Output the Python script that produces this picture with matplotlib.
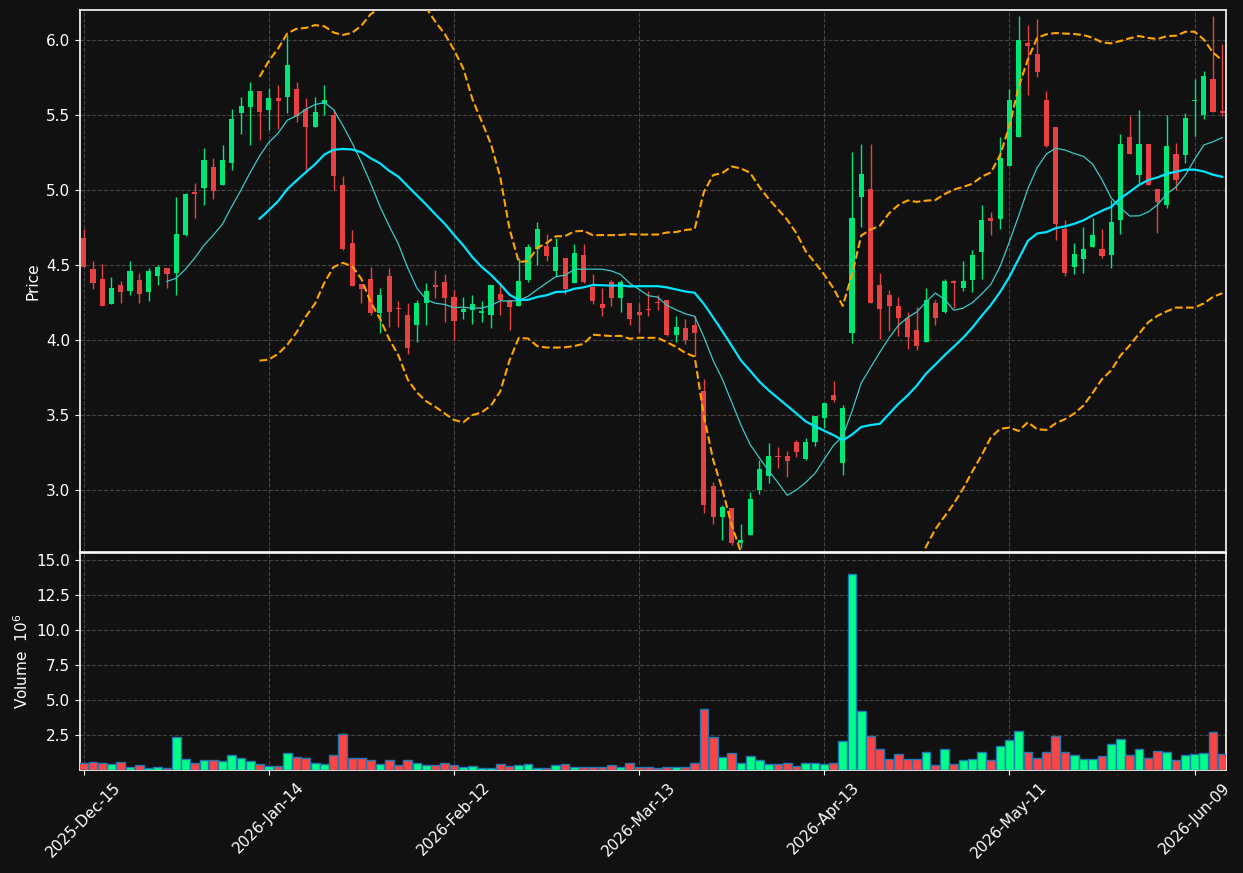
import numpy as np
import pandas as pd
import matplotlib
matplotlib.use('Agg')
import matplotlib.pyplot as plt

# trading days (NYSE calendar) 2025-12-15 .. 2026-06-12
holidays = ['2025-12-25', '2026-01-01', '2026-01-19', '2026-02-16', '2026-04-03', '2026-05-25']
dates = pd.bdate_range('2025-12-15', '2026-06-12', freq='C', holidays=holidays)

opens = [4.682, 4.470, 4.409, 4.238, 4.369, 4.324, 4.402, 4.317, 4.425, 4.481,
         4.444, 4.699, 4.984, 5.010, 5.155, 5.031, 5.179, 5.513, 5.553, 5.663,
         5.532, 5.616, 5.619, 5.675, 5.537, 5.420, 5.572, 5.497, 5.036, 4.643,
         4.371, 4.409, 4.177, 4.423, 4.210, 4.163, 4.097, 4.247, 4.362, 4.383,
         4.289, 4.184, 4.198, 4.177, 4.165, 4.308, 4.266, 4.224, 4.402, 4.605,
         4.629, 4.458, 4.549, 4.378, 4.563, 4.355, 4.242, 4.383, 4.278, 4.249,
         4.184, 4.203, 4.254, 4.266, 4.034, 4.079, 4.102, 3.662, 3.028, 2.817,
         2.880, 2.644, 2.700, 2.997, 3.091, 3.227, 3.222, 3.320, 3.203, 3.320,
         3.477, 3.629, 3.178, 4.044, 4.952, 5.003, 4.369, 4.301, 4.228, 4.149,
         4.065, 3.985, 4.249, 4.186, 4.390, 4.345, 4.397, 4.584, 4.816, 4.809,
         5.158, 5.352, 5.981, 5.904, 5.602, 5.417, 4.736, 4.483, 4.537, 4.617,
         4.603, 4.565, 4.797, 5.356, 5.099, 5.303, 5.003, 4.898, 5.237, 5.232,
         5.590, 5.497, 5.743, 5.525]
highs = [4.741, 4.526, 4.509, 4.420, 4.390, 4.523, 4.448, 4.479, 4.500, 4.481,
         4.954, 4.982, 5.043, 5.282, 5.214, 5.300, 5.541, 5.621, 5.722, 5.663,
         5.682, 5.700, 6.033, 5.722, 5.612, 5.621, 5.700, 5.530, 5.092, 4.734,
         4.371, 4.483, 4.345, 4.479, 4.261, 4.247, 4.266, 4.381, 4.467, 4.441,
         4.331, 4.289, 4.301, 4.261, 4.369, 4.367, 4.266, 4.547, 4.640, 4.783,
         4.703, 4.680, 4.549, 4.640, 4.640, 4.437, 4.348, 4.399, 4.399, 4.249,
         4.249, 4.329, 4.296, 4.266, 4.161, 4.137, 4.156, 3.739, 3.049, 2.899,
         2.880, 2.773, 2.986, 3.196, 3.313, 3.283, 3.260, 3.330, 3.348, 3.489,
         3.582, 3.728, 3.566, 5.256, 5.303, 5.303, 4.448, 4.331, 4.285, 4.186,
         4.217, 4.345, 4.263, 4.406, 4.402, 4.526, 4.601, 4.900, 4.853, 5.354,
         5.675, 6.157, 6.103, 6.140, 5.661, 5.417, 4.799, 4.647, 4.753, 4.811,
         4.741, 4.933, 5.375, 5.494, 5.534, 5.303, 5.003, 5.502, 5.314, 5.513,
         5.740, 5.792, 6.161, 5.974]
lows = [4.483, 4.341, 4.224, 4.238, 4.247, 4.301, 4.247, 4.259, 4.364, 4.348,
        4.301, 4.692, 4.813, 4.900, 4.938, 5.031, 5.134, 5.375, 5.300, 5.335,
        5.399, 5.408, 5.516, 5.455, 5.132, 5.420, 5.502, 5.001, 4.598, 4.357,
        4.247, 4.165, 4.046, 4.086, 4.086, 3.905, 3.985, 4.100, 4.278, 4.121,
        4.000, 4.137, 4.107, 4.121, 4.081, 4.165, 4.067, 4.224, 4.383, 4.502,
        4.523, 4.425, 4.306, 4.378, 4.376, 4.242, 4.161, 4.224, 4.186, 4.100,
        4.051, 4.161, 4.196, 4.025, 3.985, 3.969, 3.891, 2.845, 2.770, 2.665,
        2.630, 2.611, 2.700, 2.974, 3.044, 3.142, 3.084, 3.220, 3.196, 3.295,
        3.414, 3.587, 3.098, 3.980, 4.753, 4.245, 4.004, 4.060, 4.027, 3.941,
        3.929, 3.985, 4.102, 4.177, 4.210, 4.329, 4.320, 4.409, 4.701, 4.741,
        5.158, 5.352, 5.635, 5.754, 5.284, 4.666, 4.425, 4.441, 4.448, 4.617,
        4.547, 4.479, 4.703, 5.239, 5.045, 5.031, 4.713, 4.881, 4.998, 5.181,
        5.361, 5.473, 5.518, 5.494]
closes = [4.483, 4.378, 4.224, 4.343, 4.317, 4.462, 4.303, 4.462, 4.488, 4.437,
          4.703, 4.975, 4.970, 5.197, 4.991, 5.202, 5.476, 5.562, 5.663, 5.518,
          5.616, 5.593, 5.836, 5.490, 5.420, 5.523, 5.602, 5.092, 4.603, 4.357,
          4.338, 4.177, 4.301, 4.186, 4.203, 3.945, 4.249, 4.329, 4.355, 4.278,
          4.125, 4.203, 4.242, 4.191, 4.369, 4.266, 4.217, 4.390, 4.622, 4.736,
          4.558, 4.622, 4.338, 4.582, 4.388, 4.261, 4.214, 4.278, 4.383, 4.137,
          4.165, 4.196, 4.247, 4.034, 4.086, 3.997, 4.044, 2.897, 2.817, 2.887,
          2.644, 2.667, 2.941, 3.140, 3.224, 3.220, 3.194, 3.255, 3.320, 3.489,
          3.582, 3.601, 3.547, 4.816, 5.104, 4.245, 4.205, 4.224, 4.144, 4.018,
          3.957, 4.268, 4.144, 4.390, 4.378, 4.390, 4.563, 4.802, 4.792, 5.216,
          5.597, 5.998, 5.960, 5.789, 5.291, 4.771, 4.444, 4.570, 4.603, 4.696,
          4.558, 4.783, 5.303, 5.239, 5.303, 5.031, 4.921, 5.296, 5.064, 5.483,
          5.602, 5.757, 5.518, 5.516]
# volume in millions of shares
volumes = [0.51, 0.58, 0.51, 0.44, 0.58, 0.23, 0.37, 0.16, 0.23, 0.16,
           2.36, 0.80, 0.51, 0.73, 0.73, 0.65, 1.08, 0.87, 0.65, 0.44,
           0.27, 0.27, 1.22, 0.94, 0.87, 0.51, 0.44, 1.08, 2.57, 0.87,
           0.87, 0.73, 0.44, 0.73, 0.37, 0.73, 0.51, 0.37, 0.37, 0.51,
           0.37, 0.20, 0.27, 0.16, 0.16, 0.44, 0.27, 0.37, 0.44, 0.16,
           0.16, 0.37, 0.44, 0.23, 0.23, 0.23, 0.23, 0.37, 0.23, 0.51,
           0.23, 0.23, 0.16, 0.23, 0.23, 0.23, 0.51, 4.33, 2.36, 0.94,
           1.22, 0.51, 1.01, 0.73, 0.44, 0.44, 0.51, 0.27, 0.51, 0.51,
           0.44, 0.51, 2.08, 14.02, 4.18, 2.41, 1.51, 0.80, 1.15, 0.80,
           0.80, 1.29, 0.37, 1.51, 0.44, 0.73, 0.80, 1.29, 0.73, 1.72,
           2.15, 2.79, 1.29, 0.87, 1.29, 2.43, 1.29, 1.08, 0.80, 0.80,
           1.01, 1.86, 2.22, 1.08, 1.51, 0.87, 1.36, 1.29, 0.73, 1.08,
           1.15, 1.22, 2.72, 1.15]

df = pd.DataFrame({'Open': opens, 'High': highs, 'Low': lows,
                   'Close': closes, 'Volume': volumes}, index=dates)

# moving averages and bollinger bands
ma10 = df['Close'].rolling(10).mean()
ma20 = df['Close'].rolling(20).mean()
std20 = df['Close'].rolling(20).std(ddof=0)
bb_up = ma20 + 2 * std20
bb_dn = ma20 - 2 * std20

BG = '#111111'
UP, DOWN = '#00e676', '#e84142'
VUP, VDOWN = '#00ff88', '#ff4444'

fig = plt.figure(figsize=(12.43, 8.73), dpi=100, facecolor=BG)
W, H = 1243, 873
ax1 = fig.add_axes([80 / W, 1 - 552 / H, 1146 / W, 542 / H], facecolor=BG)
ax2 = fig.add_axes([80 / W, 1 - 770 / H, 1146 / W, 217 / H], facecolor=BG, sharex=ax1)

x = np.arange(len(df))
up = df['Close'] >= df['Open']

# candles
ax1.vlines(x, df['Low'], df['High'], colors=np.where(up, UP, DOWN), linewidth=1, zorder=2)
body_bottom = np.minimum(df['Open'], df['Close'])
body_height = np.maximum((df['Close'] - df['Open']).abs(), 0.008)
ax1.bar(x, body_height, bottom=body_bottom, width=0.55,
        color=np.where(up, UP, DOWN), linewidth=0, zorder=3)

# overlays
ax1.plot(x, ma10, color='#3cc8c8', linewidth=0.9, zorder=4)
ax1.plot(x, ma20, color='#00e5ff', linewidth=1.6, zorder=4)
ax1.plot(x, bb_up, color='orange', linestyle='--', linewidth=1.5, zorder=4)
ax1.plot(x, bb_dn, color='orange', linestyle='--', linewidth=1.5, zorder=4)

ax1.set_ylim(2.585, 6.2)
ax1.set_xlim(-0.4, 123.4)
ax1.set_yticks([3.0, 3.5, 4.0, 4.5, 5.0, 5.5, 6.0])
ax1.set_ylabel('Price', color='white', fontsize=11)

# volume
ax2.bar(x, df['Volume'], width=0.95, color=np.where(up, VUP, VDOWN),
        edgecolor='#1f77b4', linewidth=1, zorder=3)
ax2.set_ylim(0, 15.5)
ax2.set_yticks([2.5, 5.0, 7.5, 10.0, 12.5, 15.0])
ax2.set_ylabel('Volume  $10^{6}$', color='white', fontsize=11)

tick_idx = list(range(0, len(df), 20))
ax2.set_xticks(tick_idx)
ax2.set_xticklabels([dates[i].strftime('%Y-%b-%d') for i in tick_idx],
                    rotation=45, ha='center')

for ax in (ax1, ax2):
    ax.grid(True, color='#444444', linestyle='--', linewidth=0.8)
    ax.set_axisbelow(True)
    for s in ax.spines.values():
        s.set_color('white')
        s.set_linewidth(1.2)
    ax.tick_params(colors='white', labelsize=11)
    ax.yaxis.set_major_formatter(plt.FormatStrFormatter('%.1f'))

ax1.tick_params(axis='x', labelbottom=False, length=0)

plt.savefig('out.png', dpi=100, facecolor=BG)
